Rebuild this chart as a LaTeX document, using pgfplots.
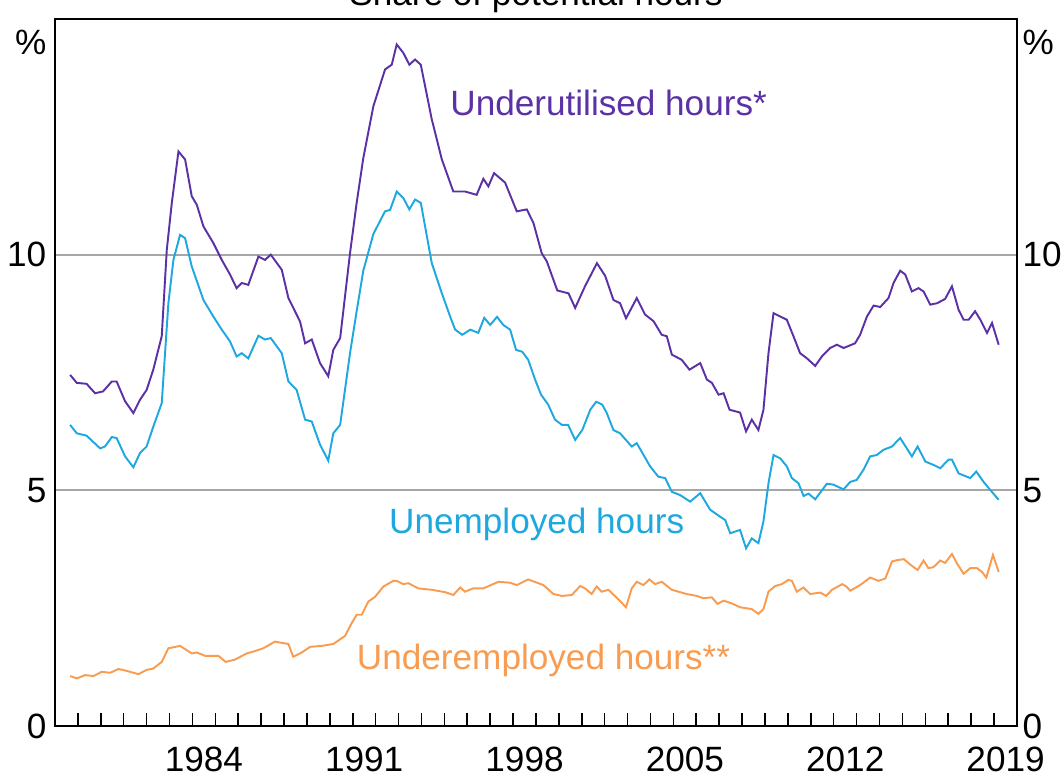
\documentclass[border=0pt]{standalone}
\usepackage{fontspec}
\setmainfont{Liberation Sans}
\usepackage{pgfplots}
\pgfplotsset{compat=1.18}
\definecolor{cUtil}{HTML}{5B31A6}
\definecolor{cUnemp}{HTML}{1FA8E0}
\definecolor{cUnder}{HTML}{F89C52}

\begin{document}
\begin{tikzpicture}[font=\fontsize{10}{12}\selectfont]
\begin{axis}[
  name=main,
  scale only axis, width=96.2mm, height=70.7mm,
  xmin=1978, xmax=2020, ymin=0, ymax=15,
  xtick={1978,...,2020}, xticklabels={},
  xtick pos=lower, tick align=inside,
  major tick length=1.3mm,
  extra x ticks={1984.5,1991.5,1998.5,2005.5,2012.5,2019.5},
  extra x tick labels={1984,1991,1998,2005,2012,2019},
  extra x tick style={major tick length=0pt, grid=none, tick label style={yshift=-0.9mm}},
  ytick={0,5,10}, ytick pos=left, ytick style={draw=none},
  ymajorgrids, grid style={black!35, line width=0.5pt},
  yticklabel style={inner sep=0.8mm},
  /pgf/number format/assume math mode=true,
  axis line style={line width=0.45pt},
  tick style={black, line width=0.45pt},
  clip=false,
]
% underutilised hours (share of potential hours, %)
\addplot[cUtil, line width=0.55pt] coordinates {
(1978.66,7.45) (1978.95,7.28) (1979.38,7.26) (1979.75,7.06) (1980.10,7.10)
(1980.48,7.31) (1980.69,7.31) (1981.06,6.89) (1981.42,6.64) (1981.71,6.92)
(1982.00,7.13) (1982.29,7.56) (1982.66,8.27) (1982.88,10.10) (1983.10,11.10)
(1983.39,12.19) (1983.68,12.02) (1983.97,11.24) (1984.19,11.06) (1984.48,10.60)
(1984.91,10.25) (1985.28,9.89) (1985.64,9.58) (1985.93,9.29) (1986.15,9.40)
(1986.44,9.36) (1986.88,9.96) (1987.17,9.89) (1987.42,10.00) (1987.90,9.68)
(1988.19,9.08) (1988.70,8.58) (1988.92,8.12) (1989.21,8.20) (1989.57,7.70)
(1989.93,7.42) (1990.15,7.98) (1990.45,8.23) (1990.88,10.03) (1991.17,11.10)
(1991.46,12.05) (1991.90,13.15) (1992.41,13.93) (1992.70,14.03) (1992.92,14.46)
(1993.21,14.28) (1993.47,14.03) (1993.72,14.14) (1993.97,14.03) (1994.45,12.87)
(1994.89,12.02) (1995.39,11.34) (1995.90,11.34) (1996.41,11.27) (1996.70,11.61)
(1996.92,11.45) (1997.17,11.73) (1997.65,11.53) (1998.16,10.92) (1998.60,10.96)
(1998.89,10.67) (1999.25,10.03) (1999.47,9.86) (1999.93,9.24) (2000.42,9.18)
(2000.71,8.87) (2001.14,9.33) (2001.66,9.82) (2002.02,9.55) (2002.38,9.04)
(2002.67,8.97) (2002.93,8.65) (2003.40,9.08) (2003.76,8.73) (2004.13,8.59)
(2004.49,8.30) (2004.71,8.27) (2004.93,7.88) (2005.36,7.77) (2005.70,7.56)
(2006.17,7.70) (2006.46,7.35) (2006.68,7.28) (2006.97,7.03) (2007.19,7.06)
(2007.45,6.71) (2007.91,6.65) (2008.17,6.25) (2008.42,6.50) (2008.71,6.28)
(2008.93,6.71) (2009.15,7.91) (2009.37,8.76) (2009.66,8.69) (2009.95,8.62)
(2010.24,8.27) (2010.53,7.91) (2010.83,7.80) (2011.19,7.64) (2011.48,7.84)
(2011.84,8.02) (2012.14,8.09) (2012.43,8.02) (2012.93,8.12) (2013.15,8.30)
(2013.45,8.69) (2013.74,8.92) (2014.03,8.89) (2014.39,9.08) (2014.61,9.40)
(2014.90,9.66) (2015.12,9.58) (2015.41,9.22) (2015.70,9.29) (2015.92,9.22)
(2016.21,8.94) (2016.51,8.97) (2016.86,9.06) (2017.16,9.33) (2017.45,8.83)
(2017.67,8.62) (2017.89,8.62) (2018.17,8.80) (2018.40,8.62) (2018.69,8.34)
(2018.91,8.55) (2019.20,8.09)
};
% unemployed hours
\addplot[cUnemp, line width=0.55pt] coordinates {
(1978.66,6.39) (1978.95,6.21) (1979.38,6.16) (1979.97,5.89) (1980.18,5.93)
(1980.48,6.13) (1980.69,6.11) (1981.06,5.72) (1981.42,5.49) (1981.71,5.79)
(1982.00,5.93) (1982.29,6.35) (1982.66,6.85) (1982.95,8.97) (1983.17,9.89)
(1983.46,10.42) (1983.68,10.35) (1983.97,9.75) (1984.48,9.04) (1984.91,8.69)
(1985.28,8.41) (1985.64,8.16) (1985.93,7.84) (1986.15,7.91) (1986.44,7.80)
(1986.88,8.28) (1987.17,8.20) (1987.42,8.23) (1987.90,7.91) (1988.19,7.31)
(1988.55,7.13) (1988.92,6.50) (1989.21,6.46) (1989.57,5.97) (1989.93,5.63)
(1990.15,6.21) (1990.45,6.39) (1990.88,7.91) (1991.17,8.80) (1991.46,9.66)
(1991.90,10.44) (1992.41,10.92) (1992.63,10.95) (1992.92,11.34) (1993.21,11.20)
(1993.47,10.96) (1993.72,11.17) (1993.97,11.10) (1994.45,9.82) (1994.89,9.18)
(1995.25,8.69) (1995.47,8.41) (1995.78,8.30) (1996.13,8.41) (1996.48,8.34)
(1996.74,8.66) (1997.00,8.51) (1997.30,8.68) (1997.57,8.51) (1997.87,8.41)
(1998.13,7.98) (1998.40,7.94) (1998.66,7.77) (1998.96,7.35) (1999.22,7.03)
(1999.53,6.82) (1999.83,6.50) (2000.13,6.39) (2000.40,6.39) (2000.71,6.07)
(2001.02,6.28) (2001.37,6.71) (2001.63,6.88) (2001.89,6.82) (2002.09,6.64)
(2002.38,6.28) (2002.67,6.21) (2003.18,5.93) (2003.40,6.00) (2003.98,5.51)
(2004.34,5.29) (2004.64,5.26) (2004.93,4.97) (2005.29,4.90) (2005.73,4.76)
(2006.17,4.94) (2006.60,4.59) (2007.04,4.44) (2007.26,4.37) (2007.48,4.09)
(2007.91,4.16) (2008.17,3.77) (2008.42,3.98) (2008.71,3.88) (2008.93,4.34)
(2009.15,5.15) (2009.37,5.75) (2009.66,5.68) (2009.95,5.51) (2010.17,5.26)
(2010.46,5.15) (2010.68,4.88) (2010.90,4.93) (2011.19,4.81) (2011.70,5.14)
(2011.99,5.12) (2012.43,5.02) (2012.72,5.18) (2013.00,5.22) (2013.30,5.44)
(2013.59,5.72) (2013.88,5.75) (2014.17,5.86) (2014.54,5.93) (2014.90,6.11)
(2015.19,5.89) (2015.41,5.72) (2015.66,5.93) (2016.00,5.61) (2016.35,5.54)
(2016.65,5.47) (2017.01,5.65) (2017.16,5.65) (2017.45,5.36) (2017.96,5.26)
(2018.22,5.40) (2018.54,5.18) (2018.83,5.01) (2019.20,4.80)
};
% underemployed hours
\addplot[cUnder, line width=0.55pt] coordinates {
(1978.66,1.06) (1978.95,1.01) (1979.31,1.08) (1979.68,1.06) (1980.04,1.15)
(1980.41,1.13) (1980.77,1.21) (1981.13,1.17) (1981.64,1.10) (1982.00,1.19)
(1982.29,1.22) (1982.66,1.36) (1982.95,1.65) (1983.17,1.67) (1983.46,1.70)
(1983.97,1.54) (1984.19,1.56) (1984.55,1.49) (1985.13,1.49) (1985.45,1.36)
(1985.86,1.41) (1986.37,1.54) (1986.73,1.59) (1987.10,1.65) (1987.60,1.79)
(1988.19,1.74) (1988.40,1.47) (1988.77,1.56) (1989.14,1.68) (1989.65,1.70)
(1990.15,1.74) (1990.66,1.91) (1990.95,2.18) (1991.17,2.36) (1991.39,2.36)
(1991.68,2.64) (1991.97,2.74) (1992.34,2.96) (1992.77,3.08) (1992.92,3.08)
(1993.21,3.01) (1993.43,3.03) (1993.86,2.92) (1994.45,2.89) (1995.03,2.84)
(1995.39,2.78) (1995.69,2.94) (1995.90,2.85) (1996.26,2.92) (1996.70,2.92)
(1997.36,3.06) (1997.87,3.04) (1998.16,2.99) (1998.66,3.11) (1999.32,2.99)
(1999.76,2.80) (2000.13,2.76) (2000.56,2.78) (2000.93,2.97) (2001.14,2.92)
(2001.43,2.80) (2001.65,2.96) (2001.87,2.85) (2002.16,2.89) (2002.55,2.71)
(2002.93,2.52) (2003.18,2.92) (2003.40,3.06) (2003.69,2.99) (2003.95,3.11)
(2004.20,3.01) (2004.49,3.06) (2004.93,2.89) (2005.58,2.80) (2006.02,2.76)
(2006.31,2.71) (2006.68,2.73) (2006.92,2.59) (2007.19,2.66) (2007.55,2.60)
(2007.91,2.52) (2008.42,2.48) (2008.71,2.38) (2008.93,2.48) (2009.15,2.85)
(2009.44,2.97) (2009.73,3.01) (2010.02,3.10) (2010.17,3.08) (2010.39,2.85)
(2010.68,2.94) (2010.97,2.80) (2011.41,2.83) (2011.67,2.76) (2011.92,2.89)
(2012.37,3.01) (2012.55,2.96) (2012.72,2.87) (2013.15,2.99) (2013.59,3.15)
(2013.95,3.08) (2014.25,3.13) (2014.54,3.49) (2014.77,3.52) (2015.06,3.54)
(2015.35,3.42) (2015.66,3.31) (2015.92,3.51) (2016.13,3.35) (2016.35,3.37)
(2016.65,3.51) (2016.86,3.46) (2017.16,3.65) (2017.38,3.45) (2017.67,3.23)
(2017.96,3.35) (2018.25,3.35) (2018.47,3.27) (2018.66,3.15) (2018.95,3.63)
(2019.20,3.27)
};
\node[anchor=west, text=cUtil] at (axis cs:1994.72,13.23) {Underutilised hours*};
\node[text=cUnemp] at (axis cs:1999.03,4.27) {Unemployed hours};
\node[text=cUnder] at (axis cs:1999.33,1.40) {Underemployed hours**};
\node[anchor=base, yshift=1.4mm] at (rel axis cs:0.5,1) {Share of potential hours};
\node[anchor=east, inner sep=0.8mm] at (rel axis cs:0,0.9675) {\%};
\node[anchor=west, inner sep=0.5mm] at (rel axis cs:1,0.9675) {\%};
\end{axis}
\begin{axis}[
  scale only axis, width=96.2mm, height=70.7mm,
  xmin=1978, xmax=2020, ymin=0, ymax=15,
  hide x axis, axis y line*=right, y axis line style={draw=none},
  ytick={0,5,10}, ytick style={draw=none},
  yticklabel style={inner sep=0.5mm},
  /pgf/number format/assume math mode=true,
]
\addplot[draw=none] coordinates {(1978,0)};
\end{axis}
\pgfresetboundingbox
\path[use as bounding box] ([xshift=-5.5mm,yshift=-4.9mm]main.south west) rectangle ++(106.2mm,77.5mm);
\end{tikzpicture}
\end{document}
